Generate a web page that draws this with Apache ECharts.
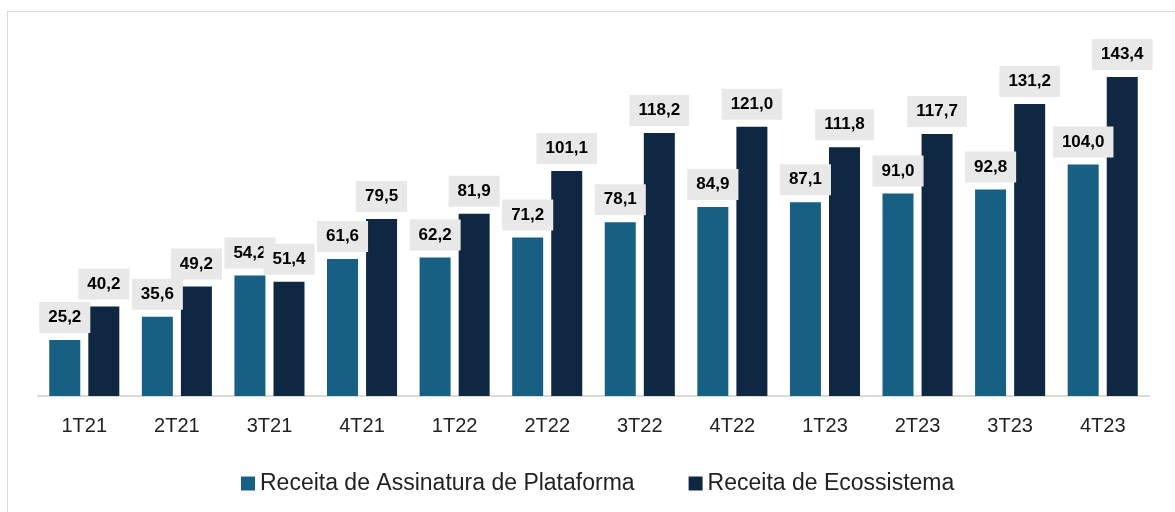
<!DOCTYPE html>
<html>
	<head>
		<meta charset="utf-8" />
		<title></title>
		<script src="https://cdn.jsdelivr.net/npm/echarts@6/dist/echarts.min.js" type="text/javascript" charset="utf-8"></script>
		<style type="text/css">
			body { margin: 0; background: #fff; }
			.frame {
				position: absolute;
				left: 7px;
				top: 11px;
				width: 1300px;
				height: 600px;
				border: 1px solid #d9d9d9;
			}
		</style>
	</head>
	<body>
		<div class="frame"></div>
		<div id="chart" style="position: absolute;left: 0;top: 0;width: 1175px;height: 512px;"></div>
		<script type="text/javascript">
			var categories = ["1T21","2T21","3T21","4T21","1T22","2T22","3T22","4T22","1T23","2T23","3T23","4T23"];
			var plataforma = [25.2, 35.6, 54.2, 61.6, 62.2, 71.2, 78.1, 84.9, 87.1, 91.0, 92.8, 104.0];
			var ecossistema = [40.2, 49.2, 51.4, 79.5, 81.9, 101.1, 118.2, 121.0, 111.8, 117.7, 131.2, 143.4];

			function fmt(p){
				return p.value.toFixed(1).replace(".", ",");
			}

			var label = {
				show: true,
				position: 'top',
				distance: 7,
				formatter: fmt,
				color: '#000',
				fontFamily: 'Liberation Sans',
				fontWeight: 'bold',
				fontSize: 17,
				lineHeight: 17,
				backgroundColor: '#e8e8e8',
				padding: [7, 9, 7, 9]
			}

			var chart = echarts.init(document.getElementById("chart"));
			chart.setOption({
				animation: false,
				grid: {left: 38, right: 26, top: 40, bottom: 116},
				legend: {
					left: 236,
					top: 467,
					itemWidth: 14,
					itemHeight: 14,
					itemGap: 54,
					icon: 'rect',
					textStyle: {color: '#222', fontSize: 23, fontFamily: 'Liberation Sans'}
				},
				xAxis: {
					type: 'category',
					data: categories,
					axisLine: {lineStyle: {color: '#d9d9d9', width: 2}},
					axisTick: {show: false},
					axisLabel: {color: '#222', fontSize: 20, margin: 20, fontFamily: 'Liberation Sans'}
				},
				yAxis: {
					type: 'value',
					min: 0,
					max: 160,
					show: false,
					splitLine: {show: false}
				},
				series: [
					{
						name: 'Receita de Assinatura de Plataforma',
						type: 'bar',
						data: plataforma,
						barWidth: 31,
						barGap: '26%',
						itemStyle: {color: '#175f83'},
						label: label
					},
					{
						name: 'Receita de Ecossistema',
						type: 'bar',
						data: ecossistema,
						barWidth: 31,
						itemStyle: {color: '#0f2741'},
						label: label
					}
				]
			});
		</script>
	</body>
</html>
